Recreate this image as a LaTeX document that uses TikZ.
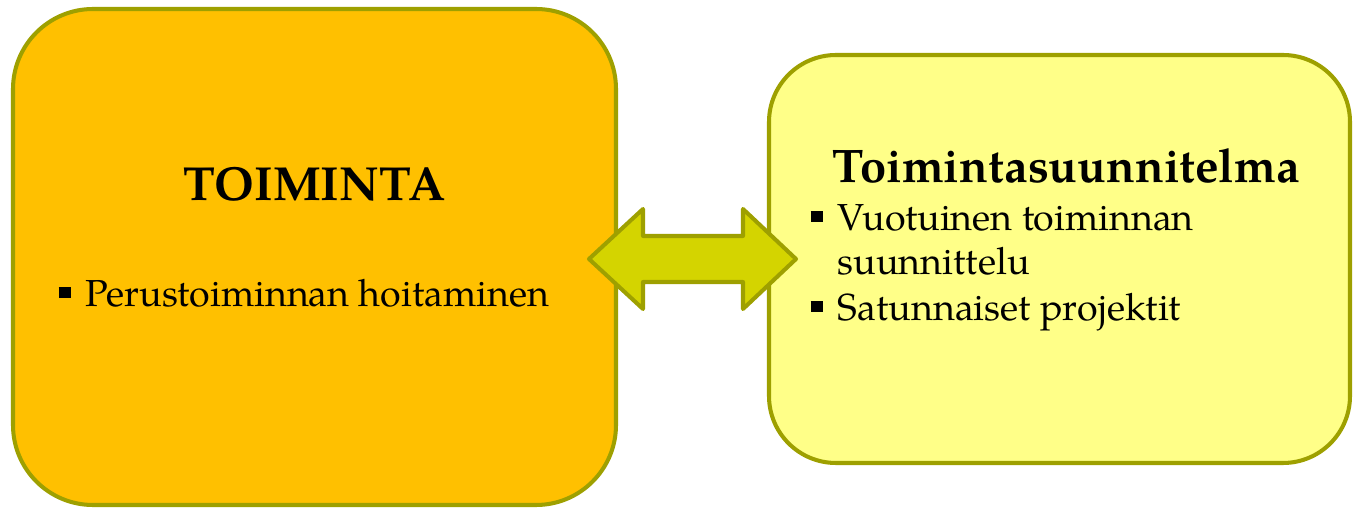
\documentclass[tikz,border=0pt]{standalone}
\usepackage{fontspec}
\setmainfont{TeX Gyre Pagella}
\usetikzlibrary{positioning,calc}

\definecolor{reuna}{RGB}{158,160,0}
\definecolor{oranssi}{RGB}{255,192,0}
\definecolor{keltainen}{RGB}{255,255,136}
\definecolor{nuolivari}{RGB}{212,212,0}

\newcommand{\nelio}{\rule[2.6pt]{3.4pt}{3.2pt}\hspace{4.3pt}}

\tikzset{
  laatikko/.style={draw=reuna, line width=1.15pt, inner sep=0pt},
  nuolityyli/.style={draw=reuna, fill=nuolivari, line width=1.15pt, line join=round},
  otsikko/.style={font=\bfseries\fontsize{13.6}{16}\selectfont, inner sep=0pt, anchor=base},
  kohta/.style={font=\fontsize{10.7}{12.8}\selectfont, inner sep=0pt, anchor=base west},
}

\begin{document}
\begin{tikzpicture}
  \useasboundingbox (0,0) rectangle (13.53,5.08);
  \node[laatikko, fill=oranssi, minimum width=6.03cm, minimum height=4.96cm,
        rounded corners=0.8cm] (toiminta) at (3.145,2.51) {};
  \node[laatikko, fill=keltainen, minimum width=5.81cm, minimum height=4.08cm,
        rounded corners=0.67cm] (suunnitelma) at (10.595,2.49) {};

  % kaksisuuntainen nuoli
  \coordinate (nuoli) at (6.93,2.49);
  \draw[nuolityyli, shift={(nuoli)}]
    (-1.04,0) -- (-0.50,0.50) -- (-0.50,0.23) -- (0.50,0.23) -- (0.50,0.50)
    -- (1.03,0) -- (0.50,-0.50) -- (0.50,-0.23) -- (-0.50,-0.23) -- (-0.50,-0.50) -- cycle;

  % vasen laatikko
  \node[otsikko] (t1) at ($(toiminta.north)+(0,-1.94)$) {TOIMINTA};
  \node[kohta] (k1) at ($(toiminta.west)+(0.47,-0.50)$) {\nelio Perustoiminnan hoitaminen};

  % oikea laatikko
  \node[otsikko, font=\bfseries\fontsize{13.4}{16}\selectfont] (t2)
        at ($(suunnitelma.north)+(0.07,-1.30)$) {Toimintasuunnitelma};
  \node[kohta] (k2) at ($(suunnitelma.north west)+(0.43,-1.78)$) {\nelio Vuotuinen toiminnan};
  \node[kohta] (k3) at ($(suunnitelma.north west)+(0.70,-2.22)$) {suunnittelu};
  \node[kohta] (k4) at ($(suunnitelma.north west)+(0.43,-2.68)$) {\nelio Satunnaiset projektit};
\end{tikzpicture}
\end{document}
